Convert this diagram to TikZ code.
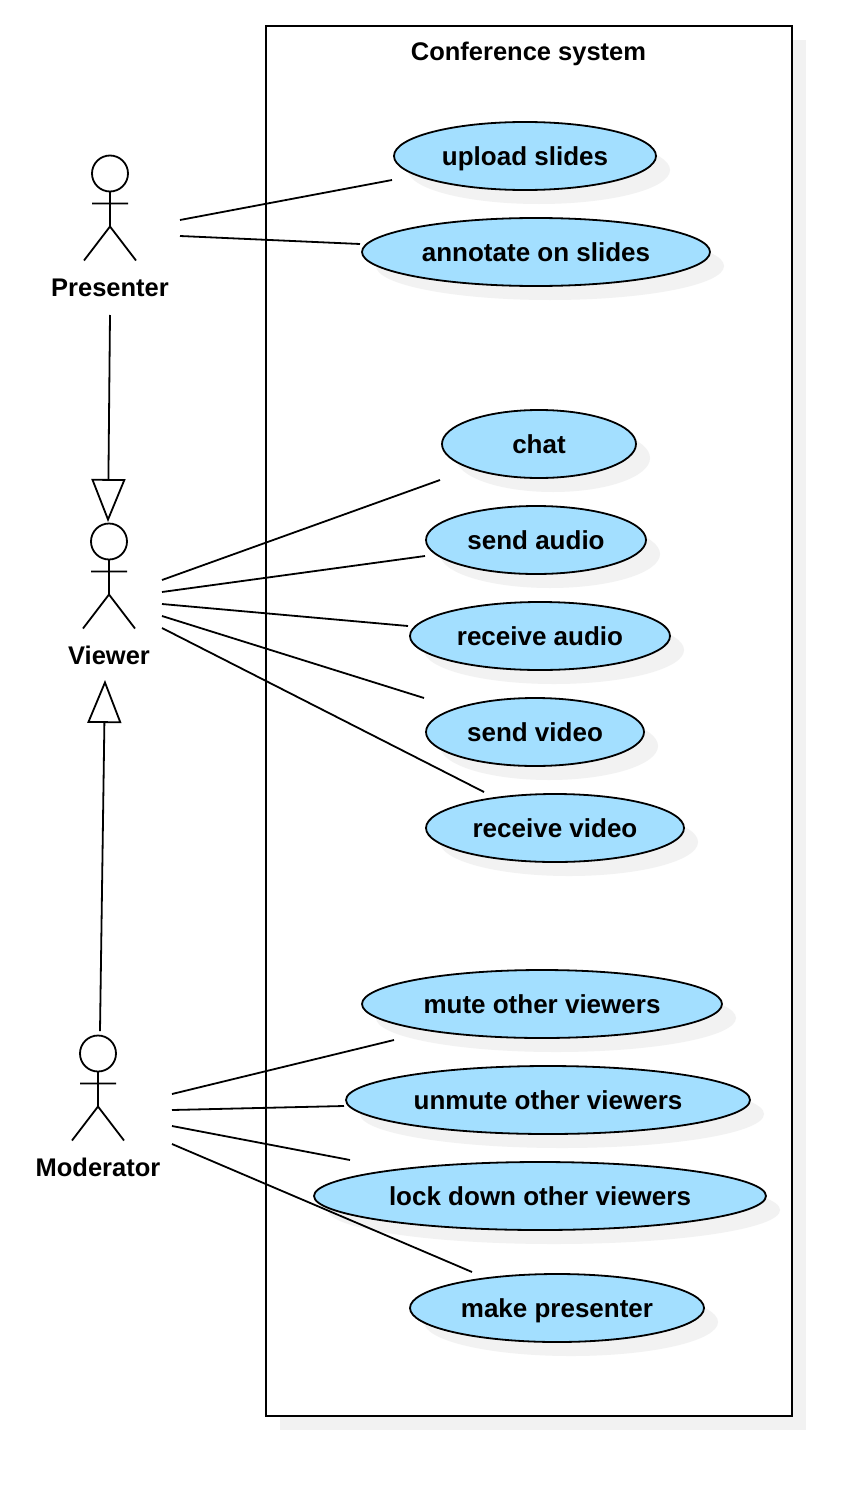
\documentclass[tikz,border=0pt]{standalone}
\usepackage{fontspec}
\setmainfont{Liberation Sans}
\usetikzlibrary{shapes.geometric,shadows,arrows.meta}
\definecolor{usecaseblue}{HTML}{A3DFFF}
\definecolor{shadowgray}{HTML}{F2F2F2}
\tikzset{
  boxshadow/.style={drop shadow={shadow xshift=14pt,shadow yshift=-14pt,fill=shadowgray,opacity=1}},
  usecase/.style={ellipse,draw,line width=1.8pt,fill=usecaseblue,inner sep=0pt,minimum height=68pt,boxshadow,font=\fontsize{26}{30}\selectfont\bfseries,text height=19pt,text depth=0pt},
  actorname/.style={font=\fontsize{25.5}{30}\selectfont\bfseries,inner sep=0pt,text height=19pt,text depth=0pt},
  assoc/.style={line width=1.8pt},
  generalize/.style={line width=1.8pt,-{Triangle[open,length=43pt,width=34pt,line width=1.8pt]}},
  actor/.pic={
    \draw[line width=1.8pt] (0,0) circle (18pt);
    \draw[line width=1.8pt] (0,18) -- (0,53) (-18,30) -- (18,30) (-26,87) -- (0,53) -- (26,87);
  }
}
\begin{document}
\begin{tikzpicture}[x=1pt,y=-1pt]
\useasboundingbox (0,0) rectangle (866,1490);
% system box
\node[rectangle,draw,line width=1.8pt,fill=white,boxshadow,minimum width=526pt,minimum height=1390pt,inner sep=0pt] (system) at (529,721) {};
\node[actorname] (title) at (528.5,51) {Conference system};
% actors
\pic at (110,173.5) {actor};
\pic at (109,541.5) {actor};
\pic at (98,1053.5) {actor};
\node[actorname] (presenter) at (110,287) {Presenter};
\node[actorname] (viewer) at (109,655) {Viewer};
\node[actorname] (moderator) at (98,1167) {Moderator};
% use cases
\node[usecase,minimum width=262pt] (upload) at (525,156) {upload slides};
\node[usecase,minimum width=348pt] (annotate) at (536,252) {annotate on slides};
\node[usecase,minimum width=194pt] (chat) at (539,444) {chat};
\node[usecase,minimum width=220pt] (sendaudio) at (536,540) {send audio};
\node[usecase,minimum width=260pt] (recaudio) at (540,636) {receive audio};
\node[usecase,minimum width=218pt] (sendvideo) at (535,732) {send video};
\node[usecase,minimum width=258pt] (recvideo) at (555,828) {receive video};
\node[usecase,minimum width=360pt] (mute) at (542,1004) {mute other viewers};
\node[usecase,minimum width=404pt] (unmute) at (548,1100) {unmute other viewers};
\node[usecase,minimum width=452pt] (lock) at (540,1196) {lock down other viewers};
\node[usecase,minimum width=294pt] (make) at (557,1308) {make presenter};
% connector ends
\coordinate (p1) at (180,220);
\coordinate (p2) at (180,236);
\coordinate (v1) at (162,580);
\coordinate (v2) at (162,592);
\coordinate (v3) at (162,604);
\coordinate (v4) at (162,616);
\coordinate (v5) at (162,628);
\coordinate (m1) at (172,1094);
\coordinate (m2) at (172,1110);
\coordinate (m3) at (172,1126);
\coordinate (m4) at (172,1144);
\coordinate (upload-in) at (392,180);
\coordinate (annotate-in) at (360,244);
\coordinate (chat-in) at (440,480);
\coordinate (sendaudio-in) at (425,556);
\coordinate (recaudio-in) at (408,626);
\coordinate (sendvideo-in) at (424,698);
\coordinate (recvideo-in) at (484,792);
\coordinate (mute-in) at (394,1040);
\coordinate (unmute-in) at (344,1106);
\coordinate (lock-in) at (350,1160);
\coordinate (make-in) at (472,1272);
\coordinate (presenter-out) at (110,315);
\coordinate (viewer-top) at (108,522);
\coordinate (moderator-out) at (100,1031);
\coordinate (viewer-bottom) at (105,680);
% associations
\foreach \from/\to in {p1/upload-in,p2/annotate-in,v1/chat-in,v2/sendaudio-in,v3/recaudio-in,v4/sendvideo-in,v5/recvideo-in,m1/mute-in,m2/unmute-in,m3/lock-in,m4/make-in}
  \draw[assoc] (\from) -- (\to);
% generalizations
\draw[generalize] (presenter-out) -- (viewer-top);
\draw[generalize] (moderator-out) -- (viewer-bottom);
\end{tikzpicture}
\end{document}
